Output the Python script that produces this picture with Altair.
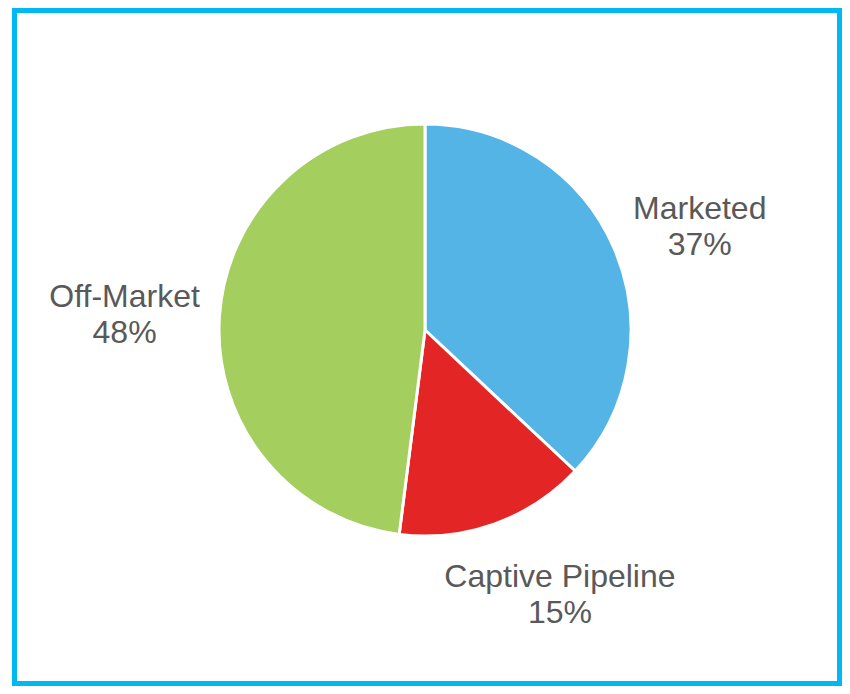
import altair as alt
import pandas as pd

categories = ["Marketed", "Captive Pipeline", "Off-Market"]
values = [37, 15, 48]
colors = ["#55B4E6", "#E42526", "#A4CE5E"]

df = pd.DataFrame({"category": categories, "value": values, "idx": list(range(len(categories)))})

CX, CY = 410.5, 319.5
theta_scale = alt.Scale(domain=[0, 100])

pie = alt.Chart(df).mark_arc(outerRadius=206, stroke="white", strokeWidth=3).encode(
    theta=alt.Theta("value:Q", stack=True, scale=theta_scale),
    order=alt.Order("idx:Q"),
    x=alt.value(CX),
    y=alt.value(CY),
    color=alt.Color("category:N", scale=alt.Scale(domain=categories, range=colors), legend=None),
)

lab_base = alt.Chart(df).transform_window(
    cum="sum(value)", sort=[alt.SortField("idx")], frame=[None, 0]
).transform_calculate(
    mid="datum.cum - datum.value / 2",
    label="datum.category + '\\n' + datum.value + '%'",
)


def label_layer(cat, dx, dy):
    return lab_base.transform_filter(alt.datum.category == cat).mark_text(
        radius=295, dx=dx, dy=dy, fontSize=32, font="Liberation Sans",
        color="#595959", lineBreak="\n", lineHeight=36, align="center", baseline="middle"
    ).encode(
        theta=alt.Theta("mid:Q", stack=None, scale=theta_scale),
        x=alt.value(CX),
        y=alt.value(CY),
        text="label:N",
    )


labels = [
    label_layer("Marketed", 4, -4),
    label_layer("Captive Pipeline", 35, -31),
    label_layer("Off-Market", -6, -14),
]

chart = alt.layer(pie, *labels).properties(
    width=825, height=673,
    padding={"left": 6.5, "top": 2.5, "right": 2.5, "bottom": 2.5},
    autosize=alt.AutoSizeParams(type="none"),
).configure_view(stroke="#00B9F2", strokeWidth=5)

chart.save("out.html", embed_options={"renderer": "svg", "actions": False})
